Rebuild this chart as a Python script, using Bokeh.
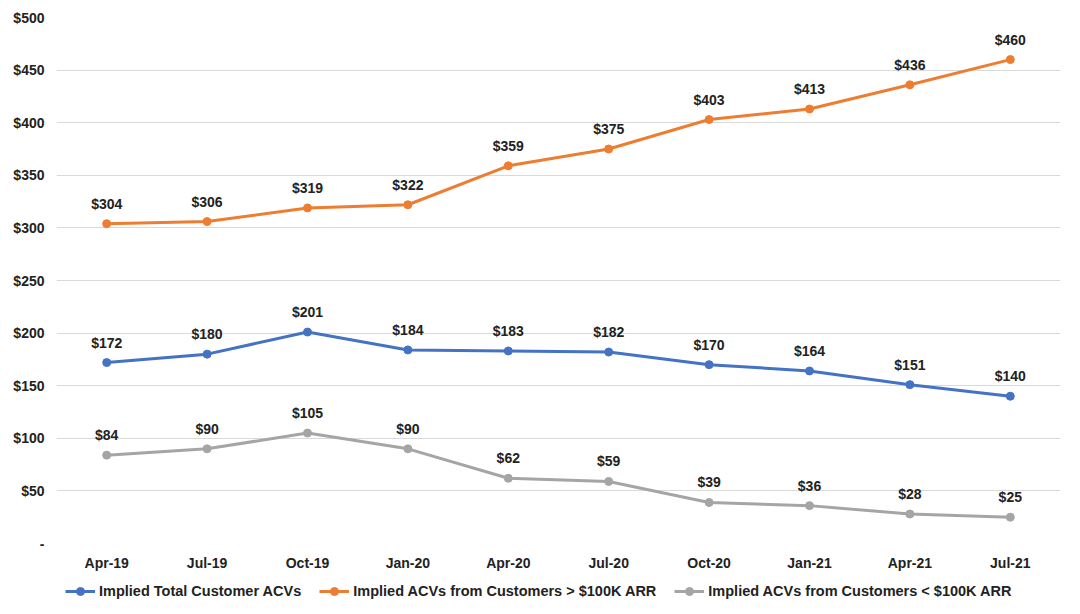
from bokeh.plotting import figure
from bokeh.layouts import column
from bokeh.models import Legend, LegendItem, ColumnDataSource, LabelSet, FixedTicker, PrintfTickFormatter
from bokeh.core.properties import value
from bokeh.embed import file_html
from bokeh.resources import INLINE

quarters = ["Apr-19", "Jul-19", "Oct-19", "Jan-20", "Apr-20", "Jul-20", "Oct-20", "Jan-21", "Apr-21", "Jul-21"]
total_acv = [172, 180, 201, 184, 183, 182, 170, 164, 151, 140]
above_100k = [304, 306, 319, 322, 359, 375, 403, 413, 436, 460]
below_100k = [84, 90, 105, 90, 62, 59, 39, 36, 28, 25]
y_ticks = [0, 50, 100, 150, 200, 250, 300, 350, 400, 450, 500]

series = [
    ("Implied Total Customer ACVs", total_acv, "#4472C4"),
    ("Implied ACVs from Customers > $100K ARR", above_100k, "#ED7D31"),
    ("Implied ACVs from Customers < $100K ARR", below_100k, "#A5A5A5"),
]

FONT = "Liberation Sans"
W = 1068

p = figure(x_range=quarters, y_range=(0, 500), width=W, height=577,
           output_backend="svg", toolbar_location=None,
           min_border_left=56, min_border_right=8, min_border_top=17, min_border_bottom=34)
p.outline_line_color = None
p.background_fill_color = "white"

for name, vals, color in series:
    src = ColumnDataSource(dict(x=quarters, y=vals, lab=["$%d" % v for v in vals]))
    p.line("x", "y", source=src, line_color=color, line_width=3)
    p.scatter("x", "y", source=src, fill_color=color, line_color=color, size=8)
    labels = LabelSet(x="x", y="y", text="lab", source=src, y_offset=12,
                      text_align="center", text_baseline="bottom",
                      text_font=value(FONT), text_font_style="bold",
                      text_font_size="14px", text_color="#222222")
    p.add_layout(labels)

p.yaxis.ticker = FixedTicker(ticks=y_ticks)
p.yaxis.formatter = PrintfTickFormatter(format="$%d")
p.yaxis.major_label_overrides = {0: "-"}
p.yaxis.axis_line_color = None
p.yaxis.major_tick_line_color = None
p.yaxis.minor_tick_line_color = None
p.yaxis.major_label_text_font = FONT
p.yaxis.major_label_text_font_style = "bold"
p.yaxis.major_label_text_font_size = "14px"
p.yaxis.major_label_text_color = "#222222"
p.yaxis.major_label_standoff = 6

p.xaxis.axis_line_color = None
p.xaxis.major_tick_line_color = None
p.xaxis.minor_tick_line_color = None
p.xaxis.major_label_text_font = FONT
p.xaxis.major_label_text_font_style = "bold"
p.xaxis.major_label_text_font_size = "14px"
p.xaxis.major_label_text_color = "#222222"
p.xaxis.major_label_standoff = 5

p.xgrid.grid_line_color = None
p.ygrid.grid_line_color = "#D9D9D9"
p.ygrid.grid_line_width = 1

# legend strip below the chart
lg = figure(width=W, height=32, x_range=(0, 1), y_range=(0, 1),
            output_backend="svg", toolbar_location=None,
            min_border=0, outline_line_color=None)
lg.axis.visible = False
lg.grid.visible = False
items = []
for name, vals, color in series:
    r1 = lg.line(x=[-5, -4], y=[-5, -4], line_color=color, line_width=3)
    r2 = lg.scatter(x=[-5], y=[-5], fill_color=color, line_color=color, size=9)
    items.append(LegendItem(label=name, renderers=[r1, r2]))
legend = Legend(items=items, orientation="horizontal", location=(9, 8),
                label_text_font=FONT, label_text_font_style="bold",
                label_text_font_size="14.5px", label_text_color="#222222",
                glyph_width=30, label_standoff=4, spacing=18,
                border_line_color=None, background_fill_alpha=0,
                padding=4, margin=0)
lg.add_layout(legend)

open("out.html", "w").write(file_html(column(p, lg, spacing=0), INLINE))
